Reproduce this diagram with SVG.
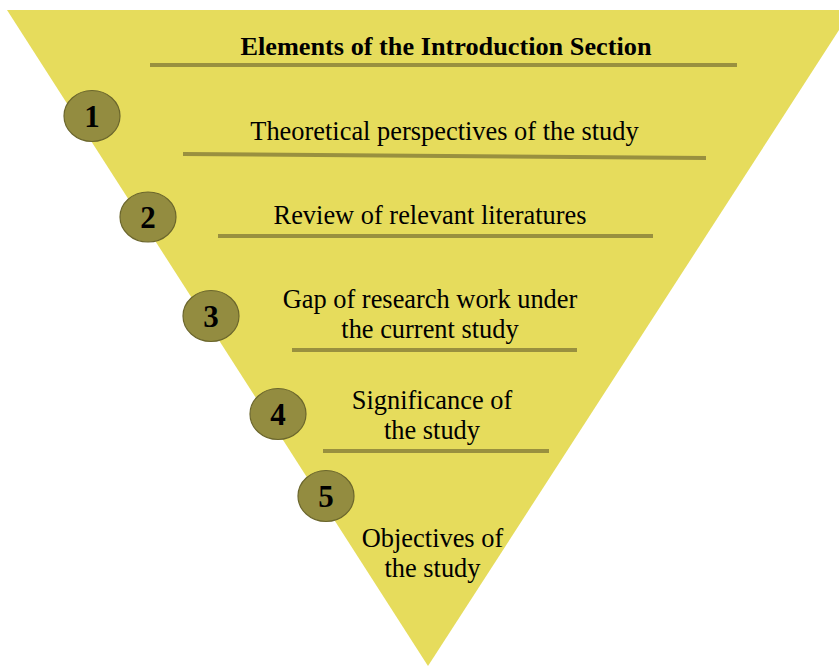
<svg xmlns="http://www.w3.org/2000/svg" width="839" height="666" viewBox="0 0 839 666">
  <style>
    .funnel { fill: #E6DC5C; }
    .rule { stroke: #99903F; stroke-width: 4; fill: none; }
    .badge { fill: #938C40; stroke: #6B662C; stroke-width: 1.2; }
    .num { font-family: "Liberation Serif", "Times New Roman", serif; font-weight: bold; font-size: 31px; fill: #000; text-anchor: middle; }
    .label { font-family: "Liberation Serif", "Times New Roman", serif; font-size: 26.4px; fill: #000; text-anchor: middle; }
    .title { font-family: "Liberation Serif", "Times New Roman", serif; font-weight: bold; font-size: 25px; fill: #000; text-anchor: middle; }
  </style>
  <rect width="839" height="666" fill="#FFFFFF"/>

  <!-- inverted triangle background -->
  <polygon class="funnel" points="7,10 852,10 428,666"/>

  <!-- divider rules -->
  <g id="connectors">
    <line class="rule" x1="150" y1="65" x2="737" y2="65"/>
    <line class="rule" x1="183" y1="154" x2="706" y2="158"/>
    <line class="rule" x1="218" y1="236" x2="653" y2="236"/>
    <line class="rule" x1="292" y1="350" x2="577" y2="350"/>
    <line class="rule" x1="323" y1="451" x2="549" y2="451"/>
  </g>

  <g id="title">
    <text class="title" x="446" y="55" textLength="411" lengthAdjust="spacingAndGlyphs">Elements of the Introduction Section</text>
  </g>

  <g id="step1">
    <ellipse class="badge" cx="92" cy="116" rx="28" ry="25.5"/>
    <text class="num" x="92" y="127">1</text>
    <text class="label" x="444.5" y="140">Theoretical perspectives of the study</text>
  </g>

  <g id="step2">
    <ellipse class="badge" cx="148" cy="217" rx="28" ry="25"/>
    <text class="num" x="148" y="228">2</text>
    <text class="label" x="430" y="224">Review of relevant literatures</text>
  </g>

  <g id="step3">
    <ellipse class="badge" cx="211" cy="316" rx="28" ry="25.5"/>
    <text class="num" x="211" y="327">3</text>
    <text class="label" x="430" y="308">Gap of research work under</text>
    <text class="label" x="430" y="338">the current study</text>
  </g>

  <g id="step4">
    <ellipse class="badge" cx="278" cy="414" rx="28" ry="25.5"/>
    <text class="num" x="278" y="425">4</text>
    <text class="label" x="432" y="409">Significance of</text>
    <text class="label" x="432" y="439">the study</text>
  </g>

  <g id="step5">
    <ellipse class="badge" cx="326" cy="496" rx="28" ry="25.5"/>
    <text class="num" x="326" y="507">5</text>
    <text class="label" x="432.5" y="547">Objectives of</text>
    <text class="label" x="432.5" y="577">the study</text>
  </g>
</svg>
